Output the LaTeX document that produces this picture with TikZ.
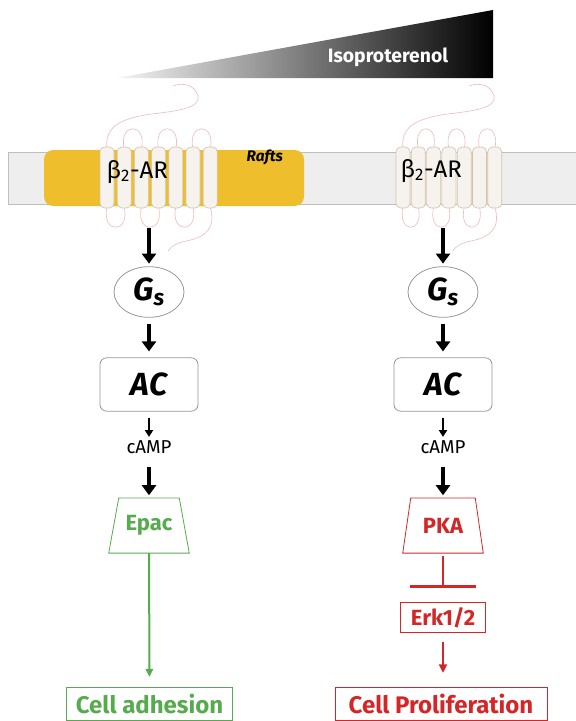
\documentclass[tikz,border=0pt]{standalone}
\usepackage{fontspec}
\setmainfont{Fira Sans}
\usetikzlibrary{shapes.geometric, arrows.meta}
\definecolor{raftgold}{RGB}{238,190,44}
\definecolor{membranegray}{RGB}{238,238,238}
\definecolor{membraneedge}{RGB}{190,190,190}
\definecolor{helixfill}{RGB}{246,243,238}
\definecolor{helixedge}{RGB}{214,196,170}
\definecolor{loopred}{RGB}{236,192,192}
\definecolor{epacgreen}{RGB}{88,170,78}
\definecolor{pkared}{RGB}{212,38,38}
\definecolor{boxgray}{RGB}{150,150,150}

% seven-helix receptor, #1 = spacing of the helices
\tikzset{
  receptor/.pic={
    % extracellular loops
    \foreach \k in {1,3,5}
      \draw[loopline] ({\k*#1},149) .. controls ({\k*#1-6},122) and ({(\k+1)*#1+6},122) .. ({(\k+1)*#1},149);
    % intracellular loops
    \foreach \k in {0,2,4}
      \draw[loopline] ({\k*#1},207) .. controls ({\k*#1-6},234) and ({(\k+1)*#1+6},234) .. ({(\k+1)*#1},207);
    % N- and C-terminal tails
    \draw[loopline] (0,149) .. controls (-3,126) and (15,118) .. (45,114)
      .. controls (70,111) and (94,108) .. (91,96) .. controls (88,85) and (76,82) .. (66,86);
    \draw[loopline] ({6*#1},207) .. controls ({6*#1+6},228) and ({6*#1-4},237) .. ({6*#1-24},241)
      .. controls ({6*#1-34},243) and ({6*#1-40},247) .. ({6*#1-42},251);
    % helices
    \foreach \k in {0,...,6}
      \draw[helix] ({\k*#1-7},147) rectangle ({\k*#1+7},208);
  }
}

\begin{document}
\begin{tikzpicture}[
    x=0.75pt, y=-0.75pt,
    loopline/.style={loopred, line width=0.5pt},
    helix/.style={fill=helixfill, draw=helixedge, line width=0.5pt, rounded corners=3.5pt},
    thickarrow/.style={-{Triangle[width=10.5pt,length=7.5pt]}, line width=3.7pt},
    thinarrow/.style={-{Triangle[width=6pt,length=5pt]}, line width=1.4pt},
    gsnode/.style={ellipse, draw=boxgray, line width=0.6pt, minimum width=52.5pt,
        minimum height=38pt, inner sep=0pt, font=\fontsize{24}{24}\selectfont\bfseries\itshape},
    acnode/.style={rectangle, rounded corners=5pt, draw=boxgray, line width=0.6pt,
        minimum width=73.5pt, minimum height=40pt, inner sep=0pt,
        font=\fontsize{24}{24}\selectfont\bfseries\itshape},
    campnode/.style={inner sep=1pt, font=\fontsize{14}{14}\selectfont},
    effector/.style={rectangle, minimum width=60pt, minimum height=41pt, inner sep=0pt,
        font=\fontsize{16.5}{16.5}\selectfont\bfseries},
    outbox/.style={rectangle, line width=0.6pt, inner sep=0pt, minimum height=25pt,
        font=\fontsize{18}{18}\selectfont\bfseries},
]
\useasboundingbox (0,0) rectangle (575,721);

% === AGONIST GRADIENT ===
\shade[left color=black!4, middle color=black!35, right color=black]
    (117,78) -- (493,10) -- (493,78) -- cycle;
\node[anchor=base, text=white, font=\fontsize{14.5}{14.5}\selectfont\bfseries] (iso) at (388,62) {Isoproterenol};

% === MEMBRANE ===
\draw[fill=membranegray, draw=membraneedge, line width=0.6pt] (8,152) rectangle (590,204);
\fill[raftgold, rounded corners=7pt] (44,150) rectangle (304,206);
\node[anchor=base west, font=\fontsize{11.5}{11.5}\selectfont\bfseries\itshape] (rafts) at (242,161) {Rafts};

% receptors
\pic at (107,0) {receptor=17.2};
\pic at (403,0) {receptor=15.3};
\node[anchor=base west, font=\fontsize{18}{18}\selectfont] (b2L) at (102,178) {β\textsubscript{2}-AR};
\node[anchor=base west, font=\fontsize{18}{18}\selectfont] (b2R) at (396,177) {β\textsubscript{2}-AR};

\coordinate (recL) at (149,228);
\coordinate (recR) at (443,228);

% === LEFT PATHWAY (in rafts) ===
\node[gsnode] (gsL) at (149,292) {G\textsubscript{s}};
\node[acnode] (acL) at (149,384.5) {AC};
\node[campnode] (campL) at (149,447) {cAMP};
\node[effector, text=epacgreen] (epac) at (149,525.5) {Epac};
\draw[epacgreen, line width=0.6pt] (epac.south west) -- (epac.south east)
    -- ([xshift=-7.5pt]epac.north east) -- ([xshift=7.5pt]epac.north west) -- cycle;
\node[outbox, draw=epacgreen, text=epacgreen, minimum width=124pt] (adh) at (149.5,704) {Cell adhesion};

% === RIGHT PATHWAY ===
\node[gsnode] (gsR) at (443,292) {G\textsubscript{s}};
\node[acnode] (acR) at (443,384.5) {AC};
\node[campnode] (campR) at (443,447) {cAMP};
\node[effector, text=pkared] (pka) at (443,525.5) {PKA};
\draw[pkared, line width=0.6pt] (pka.south west) -- (pka.south east)
    -- ([xshift=-6pt]pka.north east) -- ([xshift=6pt]pka.north west) -- cycle;
\node[outbox, draw=pkared, text=pkared, minimum width=64pt, minimum height=23pt,
      font=\fontsize{16.5}{16.5}\selectfont\bfseries] (erk) at (443,617.5) {Erk1/2};
\node[outbox, draw=pkared, text=pkared, minimum width=159pt] (prolif) at (441,704) {Cell Proliferation};

% === ARROWS ===
\draw[thickarrow, shorten >=2pt] (recL) -- (gsL);
\draw[thickarrow, shorten <=4.5pt, shorten >=4.5pt] (gsL) -- (acL);
\draw[thinarrow, shorten <=4.5pt, shorten >=1.5pt] (acL) -- (campL);
\draw[thickarrow, shorten <=9pt, shorten >=2pt] (campL) -- (epac);

\draw[thickarrow, shorten >=2pt] (recR) -- (gsR);
\draw[thickarrow, shorten <=4.5pt, shorten >=4.5pt] (gsR) -- (acR);
\draw[thinarrow, shorten <=4.5pt, shorten >=1.5pt] (acR) -- (campR);
\draw[thickarrow, shorten <=9pt, shorten >=2pt] (campR) -- (pka);

% Epac -> adhesion
\draw[epacgreen, line width=1.5pt, -{Triangle[width=5.5pt,length=6pt]}, shorten >=7.5pt]
    (epac) -- (adh);
% PKA -| Erk1/2 -> proliferation
\draw[pkared, line width=1.9pt, -{Bar[width=49pt]}, shorten <=2pt, shorten >=10.5pt]
    (pka) -- (erk);
\draw[pkared, line width=1.8pt, -{Triangle[width=6pt,length=6.5pt]}, shorten <=6.75pt, shorten >=10.5pt]
    (erk.south) -- (erk.south |- prolif.north);

\end{tikzpicture}
\end{document}
